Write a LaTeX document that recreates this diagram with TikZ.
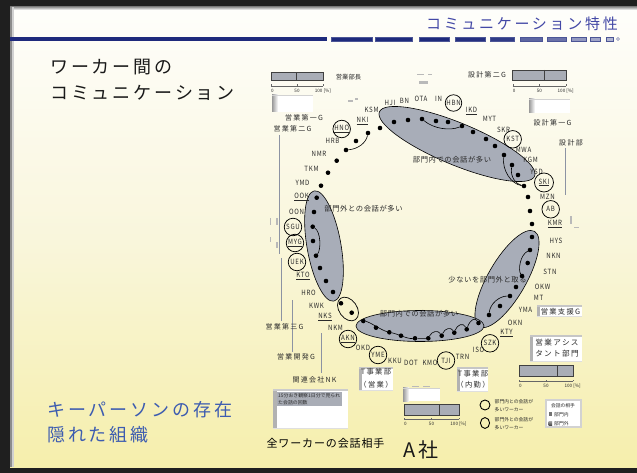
\documentclass[tikz,border=0pt]{standalone}
\usepackage{fontspec}
\setmainfont{Noto Sans CJK JP}
\newfontfamily\jpA{Noto Sans CJK JP}
\newfontfamily\jpT[LetterSpace=18]{Noto Sans CJK JP}
\newfontfamily\jpH[LetterSpace=16]{Noto Sans CJK JP}
\newfontfamily\jpS[FakeStretch=0.85,LetterSpace=10]{Noto Sans CJK JP}
\newfontfamily\jpG[LetterSpace=18]{Noto Sans CJK JP}
\newfontfamily\jpC[LetterSpace=8]{Noto Sans CJK JP}
\usetikzlibrary{calc}
\definecolor{titleblue}{HTML}{4348A6}
\definecolor{navy}{HTML}{1E2A7C}
\definecolor{keyblue}{HTML}{3D5CB0}
\definecolor{elfill}{HTML}{A8ADB8}
\definecolor{barfill}{HTML}{A9ADB6}
\definecolor{labc}{HTML}{2A2A2A}
\definecolor{slidey}{HTML}{F5EDA2}
\definecolor{slidelt}{HTML}{F9F6DC}
\definecolor{grpline}{HTML}{8C93A3}
\pgfdeclareverticalshading{slidebg}{100bp}{color(0bp)=(slidey); color(20bp)=(slidey); color(50bp)=(slidelt); color(78bp)=(white); color(100bp)=(white)}
\tikzset{
  lab/.style={font=\jpS\fontsize{7.2}{8}\selectfont, text=labc, inner sep=0pt},
  rlab/.style={lab, draw=black, line width=0.75pt, circle, minimum size=17.5pt},
  grp/.style={font=\jpG\fontsize{7}{8}\selectfont, text=labc, inner sep=0pt},
  cmt/.style={font=\jpC\fontsize{7.3}{8}\selectfont, text=labc, inner sep=0pt},
  boxt/.style={font=\jpG\fontsize{7.3}{11}\selectfont, text=labc, inner sep=0pt, align=center},
  dotn/.style={circle, fill=black, minimum size=4.6pt, inner sep=0pt},
  link/.style={black, line width=0.6pt},
  blob/.style={fill=elfill, draw=black, line width=0.6pt},
  axl/.style={font=\jpA\fontsize{4.6}{5}\selectfont, text=labc, inner sep=0pt},
  tiny/.style={font=\jpA\fontsize{4.8}{7.4}\selectfont, text=labc, inner sep=0pt, align=left},
  bar/.style={fill=barfill, draw=black!75, line width=0.7pt},
  head/.style={font=\jpH\fontsize{18}{20}\selectfont, text=black!90, inner sep=0pt, anchor=west},
  keyt/.style={font=\jpH\fontsize{18}{20}\selectfont, text=keyblue, inner sep=0pt, anchor=west},
  gline/.style={grpline, line width=0.7pt},
  smark/.style={fill=gray!55},
}
\begin{document}
\begin{tikzpicture}[x=1pt,y=-1pt]
\useasboundingbox (0,0) rectangle (637,473);
% ---------- frame and slide ----------
\fill[black!88] (0,0) rectangle (637,473);
\shade[shading=slidebg] (10,7) rectangle (637,467);
\shade[top color=black!40, bottom color=white] (10,7) rectangle (637,10);
\fill[black!45] (10,7) rectangle (12,467);
\fill[black!18] (12,7) rectangle (13.5,467);
% ---------- header ----------
\node[font=\jpT\fontsize{15}{16}\selectfont, text=titleblue, anchor=east, inner sep=0pt] (title) at (618,24) {コミュニケーション特性};
\fill[navy] (10,37.3) rectangle (327,40.8);
\foreach \a/\b/\c in {331.5/372/100,375/412.5/100,419/449.5/100,455/485/97,490/514.5/92,520/542/72,547/566/66,571/586/48,590/600/42,606/613/35}
  {\fill[navy!\c!white, draw=navy!80, line width=0.35pt] (\a,37.3) rectangle (\b,40.8);}
\draw[navy!60, line width=0.5pt] (618,39) circle[radius=1.5pt];
% ---------- headings ----------
\node[head] (h1) at (50,66.7) {ワーカー間の};
\node[head] (h2) at (50,93.3) {コミュニケーション};
\node[keyt] (k1) at (47,410) {キーパーソンの存在};
\node[keyt] (k2) at (47,435) {隠れた組織};
\node[font=\jpC\fontsize{11}{12}\selectfont, text=black, inner sep=0pt] (allw) at (325.5,443) {全ワーカーの会話相手};
\node[font=\jpA\fontsize{20}{22}\selectfont, text=black!90, inner sep=0pt] (asha) at (421,450) {A\hspace{3pt}社};
% ---------- group lines ----------
\draw[gline] (279,135) -- (279,254);
\draw[gline] (281,258) -- (281,321);
\draw[gline] (292,300) -- (292,352);
\draw[gline] (321,333) -- (321,373);
\draw[gline] (565,148) -- (565,195);
% small marks
\fill[smark] (417,74.5) rectangle (424,75.5);
\fill[smark] (428,74.5) rectangle (432,75.5);
\fill[smark] (419,81.5) rectangle (428,84);
\fill[smark] (348,100.5) rectangle (353,102.5);
\fill[smark] (355,98.5) rectangle (358,100.5);
\fill[smark] (269.5,218) rectangle (271,225);
\fill[smark] (276,218) rectangle (278,225);
\fill[smark] (269.5,237) rectangle (270.5,242);
\fill[smark] (276,242) rectangle (278,248);
\fill[smark] (570,216) rectangle (572,224);
\fill[smark] (574,227.5) rectangle (579,228.5);
\fill[smark] (412,385.5) rectangle (419,386.5);
\fill[smark] (423,385.5) rectangle (430,386.5);
% ---------- bars ----------
\foreach \xa/\xb/\xm/\ya/\yb/\yax in {271/323/296/72.7/80.7/86, 512.7/566/544/70/80.7/86, 519/573/557/365/376/381, 404/459/439/404.5/415/419}{
  \fill[bar] (\xa,\ya) rectangle (\xb,\yb);
  \draw[black!75, line width=0.7pt] (\xm,\ya) -- (\xm,\yb);
  \draw[black!60, line width=0.4pt] (\xa,\yax) -- (\xb,\yax);
  \draw[black!60, line width=0.4pt] (\xa,\yax) -- ++(0,-1.5) ($(\xa,\yax)!0.5!(\xb,\yax)$) -- ++(0,-1.5) (\xb,\yax) -- ++(0,-1.5);
  \node[axl, anchor=west] at (\xa,\yax+4.7) {0};
  \node[axl] at ($(\xa,\yax+4.7)!0.5!(\xb,\yax+4.7)$) {50};
  \node[axl, anchor=west] at ($(\xa,\yax+4.7)!0.84!(\xb,\yax+4.7)$) {100 [\%]};
}
% ---------- empty white boxes ----------
\foreach \xa/\ya/\xb/\yb in {272/95/313/112, 529/99/570/113, 403/387.5/440/401}{
  \fill[white] (\xa,\ya) rectangle (\xb,\yb);
  \shade[left color=gray!80, right color=white] (\xa,\ya) rectangle (\xa+6,\yb);
  \fill[gray!35] (\xa,\ya) rectangle (\xb,\ya+1.2);
}
% ---------- labelled boxes ----------
\foreach \xa/\ya/\xb/\yb in {537/305/582/317, 530/335/582/362, 359/367/393/390.5, 457/367/488/392}{
  \fill[white] (\xa,\ya) rectangle (\xb,\yb);
  \fill[gray!60] (\xa,\ya) rectangle (\xa+2.8,\yb);
  \fill[gray!45] (\xa,\ya) rectangle (\xb,\ya+1.6);
  \fill[gray!25] (\xa,\yb-0.8) rectangle (\xb,\yb);
}
\node[boxt] (sien) at (560.5,311.3) {営業支援G};
\node[boxt, font=\jpG\fontsize{7.6}{11}\selectfont] (asis) at (557,348.5) {営業アシス\\タント部門};
\node[boxt, font=\jpG\fontsize{7.3}{13}\selectfont] (teig) at (376,378.5) {T事業部\\（営業）};
\node[boxt, font=\jpG\fontsize{7.3}{11.5}\selectfont] (tnai) at (473,379.5) {T事業部\\（内勤）};
% observation box
\fill[white] (273,389) rectangle (348,428.5);
\fill[gray!60] (273,389) rectangle (276.5,428.5);
\fill[gray!40] (273,389) rectangle (348,390.8);
\fill[gray!25] (273,427.7) rectangle (348,428.5);
\fill[barfill] (277,392) rectangle (342,406);
\node[tiny, font=\jpA\fontsize{4.9}{7.4}\selectfont, anchor=north west] (obs) at (278,393) {15分おき観察1日分で見られ\\た会話の回数};
% legend
\draw[black, line width=0.9pt] (485,405) circle[radius=5pt];
\draw[black, line width=0.9pt] (485,423) ellipse[x radius=4.6pt, y radius=5.4pt];
\node[tiny, anchor=west] (lg1) at (494.5,405.5) {部門内との会話が\\多いワーカー};
\node[tiny, anchor=west] (lg2) at (494.5,423.5) {部門外との会話が\\多いワーカー};
\fill[gray!35] (545,399) rectangle (582,428);
\fill[white] (547,401) rectangle (580,426);
\node[tiny] (lgh) at (563,405.5) {会話の相手};
\fill[black!55] (548.5,412) rectangle (552,416);
\shade[top color=black!35, bottom color=black!70] (548.5,421) rectangle (552,425);
\node[tiny, anchor=west] (lgi) at (554,414.3) {部門内};
\node[tiny, anchor=west] (lgo) at (554,423.3) {部門外};
% ---------- blobs ----------
\draw[blob, rotate around={-22.5:(457,144)}] (457,144) ellipse[x radius=84pt, y radius=21pt];
\draw[blob, rotate around={10:(324,246)}] (324,246) ellipse[x radius=17pt, y radius=56pt];
\draw[blob, rotate around={-30:(507,279)}] (507,279) ellipse[x radius=19pt, y radius=55pt];
\draw[blob] (420,326) ellipse[x radius=64pt, y radius=15.5pt];
\draw[link, line width=0.7pt, rotate around={-55:(348,309)}] (348,309) ellipse[x radius=13pt, y radius=9pt];
% ---------- comments ----------
\node[cmt] (c1) at (452,160) {部門内での会話が多い};
\node[cmt] (c2) at (363.5,209) {部門外との会話が多い};
\node[cmt] (c3) at (487.5,280) {少ないを部門外と取る};
\node[cmt] (c4) at (419,314) {部門内での会話が多い};
% ---------- dots ----------
\foreach \x/\y [count=\i] in {336.7/160.7, 346/150, 356/141, 368/133, 380/128, 394/122, 408/120, 422/119, 436/121, 448/122, 462/126, 473/132, 486/139, 495/146, 504/155, 512/165, 518/175, 524/186, 528/197, 530/211, 532/224, 532/237, 530/250, 527.7/263, 522/276, 516/287, 510/296, 500/306, 489/315, 478.5/323, 466.7/329.3, 454.3/332.7, 441.7/335.7, 428.3/338.3, 415/338.3, 401/335.7, 389.3/332.3, 376/327.7, 363.3/321, 351.7/312.7, 341/303.3, 333/292, 326/281, 320/268, 316/255.7, 313/241, 312.7/226.7, 314/212, 316.7/197.7, 321/185.7, 328/172.7}
  {\node[dotn] (d\i) at (\x,\y) {};}
% ---------- curves ----------
\draw[link] (d2) .. controls (358,149) and (366,143) .. (d4);
\draw[link] (d8) .. controls (434,129) and (450,131) .. (d11);
\draw[link] (d15) .. controls (502,170) and (511,184) .. (d18);
\draw[link] (d16) .. controls (510,177) and (516,184) .. (d18);
\draw[link] (d23) .. controls (520,255) and (518,270) .. (d25);
\draw[link] (d27) .. controls (499,296) and (490,304) .. (d29);
\draw[link] (d47) .. controls (321,232) and (321,250) .. (d45);
\draw[link] (d39) .. controls (370,322) and (381,330) .. (d37) .. controls (398,334) and (407,339) .. (d35) -- (d34);
\draw[link] (d34) .. controls (432,331) and (438,330) .. (d33);
\draw[link] (d33) .. controls (445,328) and (451,327) .. (d32);
\draw[link] (d32) .. controls (457,325) and (463,322) .. (d31);
\draw[link] (d31) .. controls (470,320) and (475,317) .. (d30);
% ---------- worker labels ----------
\node[lab] (ksm) at (371.5,110) {KSM};
\node[lab] (hji) at (390,103) {HJI};
\node[lab] (bn) at (404.5,101) {BN};
\node[lab] (ota) at (421,99) {OTA};
\node[lab] (in) at (438.5,99) {IN};
\node[rlab, minimum size=16.5pt] (hbn) at (453.5,103) {HBN};
\node[lab] (ikd) at (471.5,111) {\underline{IKD}};
\node[lab] (myt) at (489.5,119) {MYT};
\node[lab] (skr) at (503.5,130) {SKR};
\node[rlab] (kst) at (512.7,139.3) {KST};
\node[lab] (mwa) at (523.5,150) {MWA};
\node[lab] (kgm) at (530.5,160) {KGM};
\node[lab] (ysd) at (536.5,172) {YSD};
\node[rlab, minimum size=19pt] (ski) at (544,182.5) {\underline{SKI}};
\node[lab] (mzn) at (547.5,196.5) {MZN};
\node[rlab] (ab) at (550.7,209.3) {AB};
\node[lab] (kmr) at (555,224) {\underline{KMR}};
\node[lab] (hys) at (556,240.7) {HYS};
\node[lab] (nkn) at (553.5,256) {NKN};
\node[lab] (stn) at (550,271.7) {STN};
\node[lab] (okw) at (542.5,286.7) {OKW};
\node[lab] (mt) at (538.5,298) {MT};
\node[lab] (yma) at (525.5,310) {YMA};
\node[lab] (okn) at (515,323) {OKN};
\node[lab] (kty) at (506.5,333) {\underline{KTY}};
\node[rlab] (szk) at (490,343.3) {SZK};
\node[lab] (iso) at (478.5,350) {ISO};
\node[lab] (trn) at (462.5,357.3) {TRN};
\node[rlab] (tji) at (446,360.5) {TJI};
\node[lab] (kmo) at (430,363) {KMO};
\node[lab] (dot) at (411,363) {DOT};
\node[lab] (kku) at (395,361) {KKU};
\node[rlab] (yme) at (378,355) {YME};
\node[lab] (okd) at (363,348) {OKD};
\node[rlab] (akn) at (348,339) {\underline{AKN}};
\node[lab] (nkm) at (335.5,328) {NKM};
\node[lab] (nks) at (325,317) {\underline{NKS}};
\node[lab] (kwk) at (316.5,305.5) {KWK};
\node[lab] (hro) at (308.5,293) {HRO};
\node[lab] (kto) at (303,276) {\underline{KTO}};
\node[rlab] (uek) at (297,262) {UEK};
\node[rlab] (myg) at (295,243) {\underline{MYG}};
\node[rlab] (sgu) at (293,227) {SGU};
\node[lab] (oon) at (296.5,212) {OON};
\node[lab] (ook) at (301.5,197) {\underline{OOK}};
\node[lab] (ymd) at (302.5,183) {YMD};
\node[lab] (tkm) at (311.5,168.5) {TKM};
\node[lab] (nmr) at (319,154) {NMR};
\node[lab] (hrb) at (332.5,141) {HRB};
\node[rlab] (hno) at (341.7,129) {\underline{HNO}};
\node[lab] (nki) at (362.5,121) {\underline{NKI}};
% ---------- group labels ----------
\node[grp, font=\jpA\fontsize{6.3}{7}\selectfont] (bucho) at (348.5,76.7) {営業部長};
\node[grp] (sek2) at (487,75) {設計第二G};
\node[grp] (sek1) at (552.5,123) {設計第一G};
\node[grp] (sekb) at (571,143) {設計部};
\node[grp] (eig1) at (304,117.7) {営業第一G};
\node[grp] (eig2) at (292.5,129) {営業第二G};
\node[grp] (eig3) at (284.5,327) {営業第三G};
\node[grp] (eikh) at (296,357) {営業開発G};
\node[grp] (kanr) at (314.5,380) {関連会社NK};
\end{tikzpicture}
\end{document}
